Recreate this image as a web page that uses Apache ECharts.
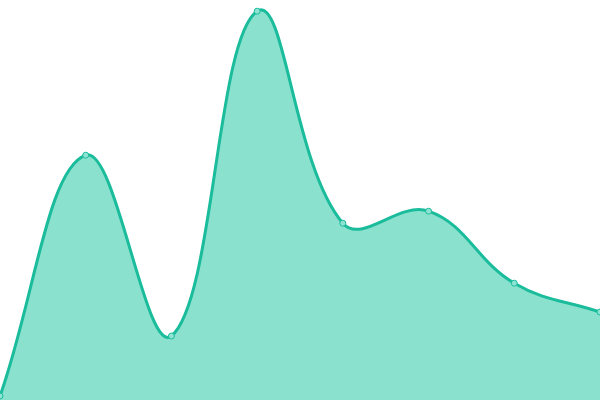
<!DOCTYPE html>
<html><head><meta charset="utf-8">
<script src="https://cdn.jsdelivr.net/npm/echarts@6/dist/echarts.min.js"></script>
<style>html,body{margin:0;padding:0;background:#fff}#c{width:600px;height:400px}</style>
</head><body><div id="c"></div>
<script>
const categories = ['A','B','C','D','E','F','G','H'];
const values = [1, 61.2, 16, 97.2, 44.2, 47.2, 29.2, 22];
const TENSION = 0.4;

function splinePath(pts) {
  const n = pts.length;
  const cps = [];
  for (let i = 0; i < n; i++) {
    const cur = pts[i];
    const prev = pts[i - 1] || cur;
    const next = pts[i + 1] || cur;
    const d01 = Math.hypot(cur[0] - prev[0], cur[1] - prev[1]);
    const d12 = Math.hypot(next[0] - cur[0], next[1] - cur[1]);
    let s01 = d01 / (d01 + d12), s12 = d12 / (d01 + d12);
    if (!isFinite(s01)) s01 = 0;
    if (!isFinite(s12)) s12 = 0;
    const fa = TENSION * s01, fb = TENSION * s12;
    cps.push({
      prev: [cur[0] - fa * (next[0] - prev[0]), cur[1] - fa * (next[1] - prev[1])],
      next: [cur[0] + fb * (next[0] - prev[0]), cur[1] + fb * (next[1] - prev[1])]
    });
  }
  let d = 'M' + pts[0][0] + ' ' + pts[0][1];
  for (let i = 0; i < n - 1; i++) {
    const a = cps[i].next, b = cps[i + 1].prev, p = pts[i + 1];
    d += ' C' + a[0] + ' ' + a[1] + ' ' + b[0] + ' ' + b[1] + ' ' + p[0] + ' ' + p[1];
  }
  return d;
}

const chart = echarts.init(document.getElementById('c'));
chart.setOption({
  animation: false,
  grid: {left: 0, right: 0, top: 0, bottom: 0},
  xAxis: {type: 'category', data: categories, boundaryGap: false, show: false},
  yAxis: {type: 'value', min: 0, max: 100, show: false},
  series: [{
    type: 'custom',
    data: [0],
    clip: false,
    renderItem: function (params, api) {
      const pts = values.map((v, i) => api.coord([i, v]));
      const base = api.coord([0, 0])[1];
      const line = splinePath(pts);
      const area = line + ' L' + pts[pts.length - 1][0] + ' ' + base + ' L' + pts[0][0] + ' ' + base + ' Z';
      return {
        type: 'group',
        children: [
          {type: 'path', shape: {pathData: area}, style: {fill: 'rgba(22,196,156,0.5)', stroke: null}},
          {type: 'path', shape: {pathData: line}, style: {fill: null, stroke: '#1abc9c', lineWidth: 3}}
        ]
      };
    }
  }, {
    type: 'scatter',
    data: values,
    symbol: 'circle',
    symbolSize: 6,
    itemStyle: {color: '#8fe3d2', borderColor: '#1abc9c', borderWidth: 1, opacity: 1},
    z: 5
  }]
});
</script></body></html>
